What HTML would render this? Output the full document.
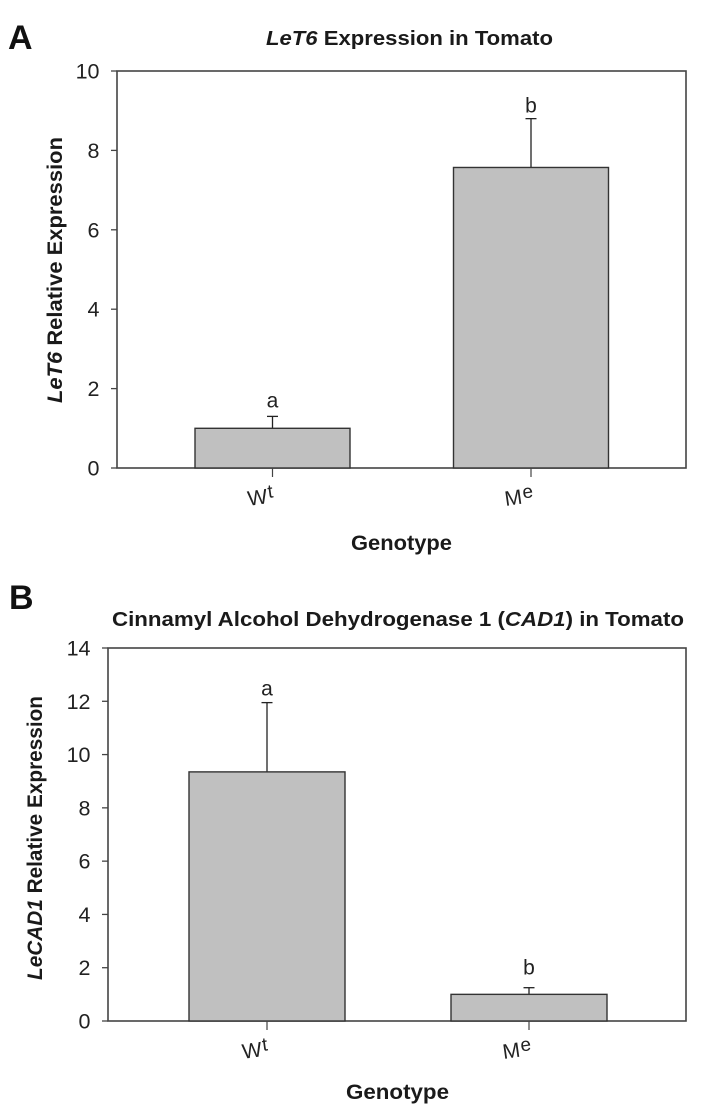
<!DOCTYPE html>
<html lang="en">
<head>
<meta charset="utf-8">
<title>LeT6 and CAD1 Expression in Tomato</title>
<style>
html,body{margin:0;padding:0;background:#fff;width:701px;height:1118px;overflow:hidden}
svg{display:block;font-family:"Liberation Sans",Arial,sans-serif}
</style>
</head>
<body>
<svg id="fig" width="701" height="1118" viewBox="0 0 701 1118" xmlns="http://www.w3.org/2000/svg">
  <text x="8" y="49" font-size="34" font-weight="bold" fill="#111">A</text>
  <text x="266" y="45" font-size="20" font-weight="bold" fill="#1a1a1a" textLength="287" lengthAdjust="spacingAndGlyphs"><tspan font-style="italic">LeT6</tspan> Expression in Tomato</text>
  <text transform="translate(62,403) rotate(-90)" font-size="21" font-weight="bold" fill="#1a1a1a" textLength="266" lengthAdjust="spacingAndGlyphs"><tspan font-style="italic">LeT6</tspan> Relative Expression</text>
  <text x="351" y="550" font-size="21" font-weight="bold" fill="#1a1a1a" textLength="101" lengthAdjust="spacingAndGlyphs">Genotype</text>

  <text x="9" y="609" font-size="34" font-weight="bold" fill="#111">B</text>
  <text x="112" y="626" font-size="20" font-weight="bold" fill="#1a1a1a" textLength="572" lengthAdjust="spacingAndGlyphs">Cinnamyl Alcohol Dehydrogenase 1 (<tspan font-style="italic">CAD1</tspan>) in Tomato</text>
  <text transform="translate(42,980) rotate(-90)" font-size="21" font-weight="bold" fill="#1a1a1a" textLength="284" lengthAdjust="spacingAndGlyphs"><tspan font-style="italic">LeCAD1</tspan> Relative Expression</text>
  <text x="346" y="1099" font-size="21" font-weight="bold" fill="#1a1a1a" textLength="103" lengthAdjust="spacingAndGlyphs">Genotype</text>
  <g id="plots"></g>
</svg>
<script>
// Chart data
const categories = ["Wt", "Me"];
const seriesA = [1.0, 7.57];
const errorTopA = [1.3, 8.8];
const lettersA = ["a", "b"];
const ticksA = [0, 2, 4, 6, 8, 10];
const seriesB = [9.35, 1.0];
const errorTopB = [11.95, 1.25];
const lettersB = ["a", "b"];
const ticksB = [0, 2, 4, 6, 8, 10, 12, 14];

const NS = "http://www.w3.org/2000/svg";
const root = document.getElementById("plots");

function make(tag, attrs, parent) {
  const el = document.createElementNS(NS, tag);
  for (const k in attrs) el.setAttribute(k, attrs[k]);
  parent.appendChild(el);
  return el;
}

function drawPanel(p, values, errorTops, letters, ticks) {
  const g = make("g", {}, root);
  
  
  const maxY = ticks[ticks.length - 1];
  const y = v => p.bottom - (v / maxY) * (p.bottom - p.top);
  const x = i => p.firstCenter + i * p.step;
  const axisColor = "#444";

  const frame = make("rect", {
    x: p.left, y: p.top, width: p.right - p.left, height: p.bottom - p.top,
    fill: "none", stroke: axisColor, "stroke-width": 1.6
  }, g);
  
  

  ticks.forEach(t => {
    const tick = make("line", {
      x1: p.left - 6, x2: p.left, y1: y(t), y2: y(t), stroke: axisColor, "stroke-width": 1.3
    }, g);
    
    
    const label = make("text", {
      x: p.left - 17.5, y: y(t) + 7.5, "font-size": 21.5, fill: "#222", "text-anchor": "end"
    }, g);
    
    
    label.textContent = t;
  });

  categories.forEach((c, i) => {
    const cx = x(i);
    const top = y(values[i]);
    const errY = y(errorTops[i]);

    const stem = make("line", { x1: cx, x2: cx, y1: top, y2: errY, stroke: "#222", "stroke-width": 1.3 }, g);
    
    
    const cap = make("line", { x1: cx - 5.5, x2: cx + 5.5, y1: errY, y2: errY, stroke: "#222", "stroke-width": 1.3 }, g);
    
    

    const bar = make("rect", {
      x: cx - p.barWidth / 2, y: top, width: p.barWidth, height: p.bottom - top,
      fill: "#c0c0c0", stroke: "#333", "stroke-width": 1.4
    }, g);
    
    

    const letter = make("text", {
      x: cx, y: errY - p.letterGap[i], "font-size": 21, fill: "#222", "text-anchor": "middle"
    }, g);
    
    
    letter.textContent = letters[i];

    const xt = make("line", { x1: cx, x2: cx, y1: p.bottom, y2: p.bottom + 9, stroke: axisColor, "stroke-width": 1.2 }, g);
    
    

    const lx = cx - 11;
    const ly = p.bottom + 36;
    const lab = make("text", {
      transform: `translate(${lx},${ly}) rotate(-8)`, "font-size": 21, fill: "#222", "text-anchor": "middle"
    }, g);
    
    
    lab.textContent = "";
    const first = make("tspan", {}, lab);
    first.textContent = c.charAt(0);
    const second = make("tspan", { dy: -5, "font-size": 19, dx: 1 }, lab);
    second.textContent = c.slice(1);
  });
}

drawPanel(
  { id: "panel-a", left: 117, right: 686, top: 71, bottom: 468, firstCenter: 272.5, step: 258.5, barWidth: 155, letterGap: [9, 6] },
  seriesA, errorTopA, lettersA, ticksA
);
drawPanel(
  { id: "panel-b", left: 108, right: 686, top: 648, bottom: 1021, firstCenter: 267, step: 262, barWidth: 156, letterGap: [7, 13] },
  seriesB, errorTopB, lettersB, ticksB
);
</script>
</body>
</html>
